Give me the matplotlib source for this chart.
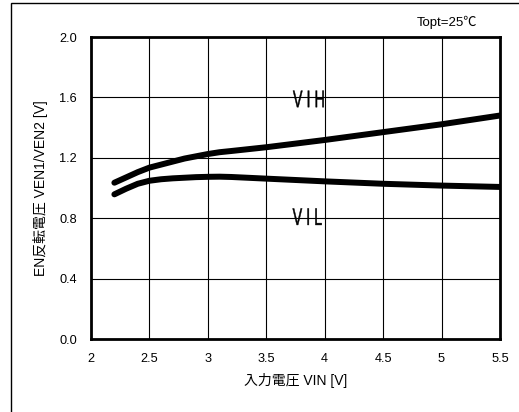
import matplotlib
matplotlib.use("Agg")
import matplotlib.pyplot as plt
from matplotlib.patches import Rectangle, PathPatch
from matplotlib.textpath import TextPath
from matplotlib.font_manager import FontProperties
from matplotlib.transforms import Affine2D, IdentityTransform

plt.rcParams['font.family'] = ['Liberation Sans', 'Noto Sans CJK JP', 'DejaVu Sans']

vin = [2.2, 2.3, 2.4, 2.5, 2.6, 2.7, 2.8, 2.9, 3.0, 3.1, 3.2, 3.5, 4.0, 4.5, 5.0, 5.5]
vih = [1.035, 1.07, 1.105, 1.135, 1.155, 1.175, 1.195, 1.21, 1.225, 1.237, 1.245, 1.27, 1.318, 1.37, 1.422, 1.48]
vil = [0.958, 0.995, 1.028, 1.048, 1.058, 1.064, 1.068, 1.072, 1.074, 1.075, 1.073, 1.062, 1.044, 1.028, 1.016, 1.007]
xticks = [2, 2.5, 3, 3.5, 4, 4.5, 5, 5.5]
xticklabels = ['2', '2.5', '3', '3.5', '4', '4.5', '5', '5.5']
yticks = [0.0, 0.4, 0.8, 1.2, 1.6, 2.0]
yticklabels = ['0.0', '0.4', '0.8', '1.2', '1.6', '2.0']
labels = ['V I H', 'V I L']
label_pos = [(3.86, 1.59), (3.85, 0.81)]

W, H = 519, 412
fig = plt.figure(figsize=(W/100, H/100), dpi=100)
fig.patches.append(Rectangle((11/W, -0.1), 1.2, (H-3)/H + 0.1, transform=fig.transFigure,
                             fill=False, edgecolor='black', linewidth=1.0))
ax = fig.add_axes([91/W, 1 - 339/H, (500-91)/W, (339-37)/H])
ax.plot(vin, vih, color='black', lw=4.3, solid_capstyle='round', solid_joinstyle='round')
ax.plot(vin, vil, color='black', lw=4.3, solid_capstyle='round', solid_joinstyle='round')
ax.set_xlim(2, 5.5)
ax.set_ylim(0, 2.0)
ax.set_xticks(xticks)
ax.set_xticklabels(xticklabels)
ax.set_yticks(yticks)
ax.set_yticklabels(yticklabels)
ax.grid(True, color='black', lw=0.8)
ax.tick_params(length=0, labelsize=9.2, pad=10)
for s in ax.spines.values():
    s.set_linewidth(2)

# condensed tall curve labels
fp = FontProperties(family='Liberation Sans')
for txt, (lx, ly) in zip(labels, label_pos):
    tp = TextPath((0, 0), txt, size=24, prop=fp)
    bb = tp.get_extents()
    px, py = ax.transData.transform((lx, ly))
    sx = 0.6
    tr = Affine2D().translate(-(bb.x0 + bb.x1) / 2, -(bb.y0 + bb.y1) / 2).scale(sx, 1.0).translate(px, py)
    patch = PathPatch(tr.transform_path(tp), facecolor='black', edgecolor='black', lw=0.3,
                      transform=IdentityTransform())
    fig.patches.append(patch)

ax.set_xlabel('入力電圧 VIN [V]', fontsize=10, labelpad=6)
ax.set_ylabel('EN反転電圧 VEN1/VEN2 [V]', fontsize=10, labelpad=8)
fig.text(447/W, 1 - 22/H, 'Topt=25℃', fontsize=9.5, ha='center', va='center')
fig.savefig('out.png', dpi=100)
